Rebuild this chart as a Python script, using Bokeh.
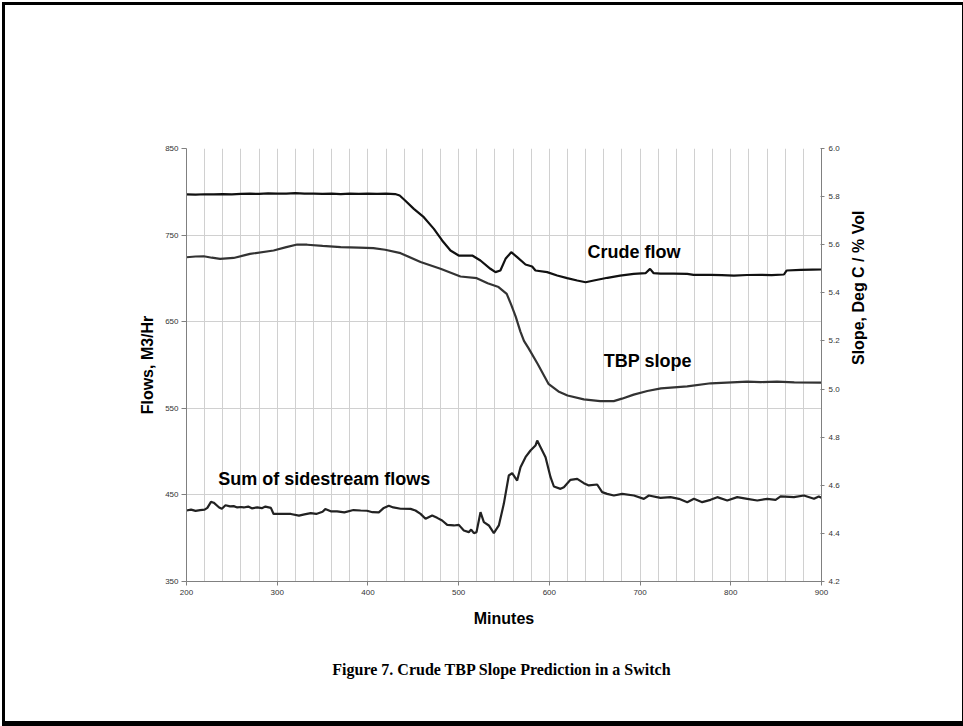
import math
from bokeh.plotting import figure
from bokeh.models import Range1d, LinearAxis, FixedTicker, Label, Title, PrintfTickFormatter
from bokeh.embed import file_html
from bokeh.resources import INLINE

# ---------------- data ----------------
x_ticks = [200, 300, 400, 500, 600, 700, 800, 900]
x_grid = list(range(200, 901, 20))
left_ticks = [350, 450, 550, 650, 750, 850]
right_ticks = [4.2, 4.4, 4.6, 4.8, 5.0, 5.2, 5.4, 5.6, 5.8, 6.0]

crude_min = [200, 210, 220, 230, 240, 250, 260, 270, 280, 290, 300, 310, 320, 330, 340, 350,
             360, 370, 380, 390, 400, 410, 420, 430, 435, 441, 450.6, 461.6, 472.7, 481.8,
             491, 500, 515, 524, 535, 540.6, 546, 551.7, 558, 564.5, 573.7, 581, 584.7, 597.6,
             608.6, 619.6, 630.7, 640, 649, 664, 678, 693, 706, 711, 715, 722.5, 737, 752,
             759, 778, 790, 803.5, 818, 833, 845, 858.6, 861.5, 877, 890, 900]
crude_flow = [797.0, 796.8, 797.2, 797.0, 797.4, 797.1, 797.6, 797.8, 797.5, 798.2, 797.9, 798.0,
              798.4, 797.8, 798.0, 797.6, 797.9, 797.4, 797.8, 797.5, 797.9, 797.6, 797.8, 797.4,
              795.7, 790.0, 780.3, 770.7, 757.2, 743.8, 732.2, 726.4, 726.4, 720.7, 711.1, 707.2,
              709.1, 722.6, 730.3, 724.5, 716.1, 713.7, 709.1, 707.2, 703.3, 700.3, 697.6, 695.6,
              697.6, 700.7, 703.3, 705.3, 706.0, 711.0, 706.0, 705.5, 705.6, 705.3, 704.1, 704.1,
              703.8, 703.3, 703.9, 704.1, 703.8, 704.5, 709.1, 709.9, 710.2, 710.3]

tbp_min = [200, 210, 219, 228, 237, 252, 270, 296, 310, 322, 333, 350, 370, 390, 406, 419, 436,
           458, 480, 502, 520, 532, 544, 553, 558, 563, 568, 572, 577, 587, 599, 610, 620, 638,
           656, 671, 680, 693, 708, 723, 752, 778, 807, 818, 833, 851, 870, 900]
tbp_slope = [5.548, 5.551, 5.552, 5.546, 5.541, 5.545, 5.562, 5.576, 5.590, 5.601, 5.600, 5.595,
             5.590, 5.588, 5.586, 5.579, 5.565, 5.528, 5.500, 5.468, 5.461, 5.440, 5.424, 5.396,
             5.350, 5.300, 5.240, 5.200, 5.170, 5.105, 5.022, 4.990, 4.973, 4.957, 4.950, 4.950,
             4.960, 4.977, 4.992, 5.003, 5.011, 5.024, 5.029, 5.031, 5.029, 5.031, 5.028, 5.027]

side_min = [200, 205, 210, 215, 220, 223, 227, 230, 236, 239, 243, 248, 252, 256, 260, 263, 268,
            272, 278, 283, 287, 293, 296, 304, 315, 324, 330, 337, 343, 350, 353, 359, 366, 374,
            384, 392, 399, 405, 412, 417.5, 423, 428, 436, 447, 452.4, 458, 463.5, 470.8, 476.3,
            481.8, 487.4, 494.7, 500.2, 505.7, 511.2, 513.8, 516.8, 519.7, 524.1, 527.8, 533.3,
            538.8, 544.3, 549.8, 555.3, 559, 564.5, 568.2, 573.7, 579.2, 584.7, 586.6, 590.3,
            595.8, 601.3, 605, 612.3, 616, 623.3, 630.7, 638, 643.5, 652.7, 658.2, 663.7, 671.1,
            680.3, 693.2, 704.2, 709.7, 722.5, 733.6, 742.8, 752, 759.4, 768.5, 777.7, 785.1,
            796.1, 807.1, 818.2, 829.2, 840.2, 849.4, 854.9, 869.6, 880.6, 891.7, 897, 900]
side_flow = [432, 433, 431.5, 432.5, 433, 435, 442, 441, 435.5, 434, 438, 436.7, 437, 435.5, 436,
             435.5, 436.5, 434.5, 435.5, 434.7, 436.5, 435, 428, 428, 428, 426, 427.5, 429, 428,
             430.5, 433.6, 431, 431, 429.8, 432.5, 432, 431.7, 430, 429.8, 435, 437.5, 435.5, 434,
             433.9, 432, 428.1, 422.4, 426.2, 423.5, 420.4, 415.4, 414.7, 415.4, 408.9, 407, 410,
             405.8, 407, 430, 418.5, 414.7, 405.8, 414.7, 439.7, 472.4, 475.1, 466.6, 482, 493.6,
             501.3, 507, 512.8, 505.1, 493.6, 470.5, 459.7, 457, 458.9, 467.4, 468.6, 463.5, 460.9,
             462, 453.2, 451.2, 449.3, 451.2, 449.3, 445.4, 449.3, 446.6, 447.4, 445.5, 441.6,
             445.5, 441.6, 444.3, 447.4, 443.5, 447.4, 445.5, 443.5, 445.5, 444.3, 448.2, 447.4,
             449.3, 445.5, 448.2, 446.6]

# ---------------- figure ----------------
FONT = "Liberation Sans"
p = figure(width=963, height=726, output_backend="svg", toolbar_location=None,
           x_range=Range1d(200, 900), y_range=Range1d(350, 850),
           min_border_left=186, min_border_right=142, min_border_top=148, min_border_bottom=145)
p.extra_y_ranges = {"slope": Range1d(4.2, 6.0)}
p.outline_line_color = None
p.background_fill_color = "white"
p.border_fill_color = None
# page frame drawn around the whole canvas
p.styles = {"box-shadow": "inset 2px 2px 0 0 white, inset 5px 5px 0 0 black, "
                          "inset -1px -5px 0 0 black",
            "background-color": "white"}

right = LinearAxis(y_range_name="slope", ticker=FixedTicker(ticks=right_ticks),
                   formatter=PrintfTickFormatter(format="%.1f"))
p.add_layout(right, "right")

p.xaxis.ticker = FixedTicker(ticks=x_ticks)
p.yaxis[0].ticker = FixedTicker(ticks=left_ticks)
p.xgrid.ticker = FixedTicker(ticks=x_grid)
p.ygrid.ticker = FixedTicker(ticks=left_ticks)
p.xgrid.grid_line_color = "#d0d0d0"
p.ygrid.grid_line_color = "#d0d0d0"

for ax in [p.xaxis[0], p.yaxis[0], right]:
    ax.axis_line_color = "#808080"
    ax.major_tick_line_color = "#808080"
    ax.minor_tick_line_color = None
    ax.major_label_text_font = FONT
    ax.major_label_text_font_size = "8px"
    ax.major_label_text_color = "#333333"
    ax.axis_label_text_font = FONT
    ax.axis_label_text_font_style = "bold"
    ax.axis_label_text_font_size = "16px"
    ax.axis_label_text_color = "black"

p.yaxis[0].axis_label = "Flows, M3/Hr"
p.yaxis[0].major_tick_out = 5
p.yaxis[0].major_tick_in = 0
p.yaxis[0].major_label_standoff = 3
p.yaxis[0].axis_label_standoff = 6

p.xaxis[0].axis_label = "Minutes"
p.xaxis[0].major_tick_out = 4
p.xaxis[0].major_tick_in = 0
p.xaxis[0].major_label_standoff = 4
p.xaxis[0].axis_label_standoff = 12

right.axis_label = "Slope, Deg C / % Vol"
right.axis_label_orientation = math.pi / 2
right.major_tick_out = 3
right.major_tick_in = 1
right.major_label_standoff = 4
right.axis_label_standoff = 16

p.line(crude_min, crude_flow, line_color="#111111", line_width=2.2)
p.line(tbp_min, tbp_slope, line_color="#333333", line_width=2.2, y_range_name="slope")
p.line(side_min, side_flow, line_color="#222222", line_width=2.2)

for x, y, t in [(642, 730, "Crude flow"), (660, 605, "TBP slope"), (235, 468, "Sum of sidestream flows")]:
    p.add_layout(Label(x=x, y=y, text=t, text_font=FONT, text_font_size="18px",
                       text_font_style="bold", text_baseline="middle", text_color="black"))

caption = Title(text="Figure 7.  Crude TBP Slope Prediction in a Switch", align="center",
                text_font="Liberation Serif", text_font_size="16px", text_font_style="bold",
                text_color="black", standoff=58)
p.add_layout(caption, "below")

open("out.html", "w").write(file_html(p, INLINE))
